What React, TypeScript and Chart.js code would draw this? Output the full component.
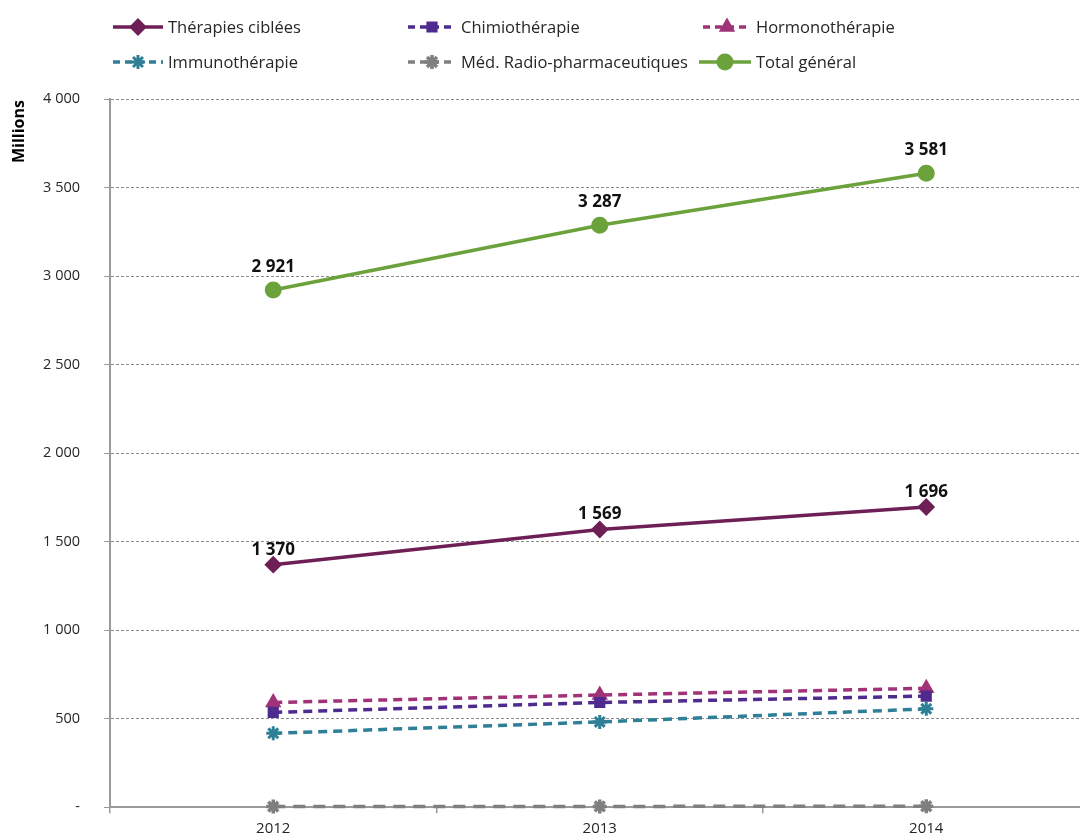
import React, { useEffect, useRef } from "react";
import { Chart, registerables } from "chart.js";
import { drawPoint } from "chart.js/helpers";

Chart.register(...registerables);

const years = ["2012", "2013", "2014"];
const therapiesCiblees = [1370, 1569, 1696];
const chimiotherapie = [536, 592, 628];
const hormonotherapie = [592, 634, 672];
const immunotherapie = [418, 482, 556];
const radioPharma = [4, 5, 6];
const totalGeneral = [2921, 3287, 3581];
const yTicks = [0, 500, 1000, 1500, 2000, 2500, 3000, 3500, 4000];

const FONT = "'Open Sans', 'DejaVu Sans', sans-serif";
const TEXT = "#262626";

const fmt = (v: number) =>
  v === 0 ? "-" : String(Math.round(v)).replace(/\B(?=(\d{3})+(?!\d))/g, " ");

export default function App() {
  const ref = useRef<HTMLCanvasElement | null>(null);
  useEffect(() => {
    if (!ref.current) return;

    const labelsPlugin = {
      id: "valueLabels",
      afterDatasetsDraw(chart: any) {
        const ctx = chart.ctx;
        ctx.save();
        ctx.font = `bold 17px ${FONT}`;
        ctx.fillStyle = "#111";
        ctx.textAlign = "center";
        ctx.textBaseline = "middle";
        chart.data.datasets.forEach((ds: any, i: number) => {
          if (!ds.showValues) return;
          const meta = chart.getDatasetMeta(i);
          meta.data.forEach((pt: any, j: number) => {
            ctx.fillText(fmt(ds.data[j]), pt.x, pt.y - ds.labelOffset);
          });
        });
        ctx.restore();
      },
    };

    const titlePlugin = {
      id: "yTitle",
      afterDraw(chart: any) {
        const ctx = chart.ctx;
        ctx.save();
        ctx.translate(19, chart.chartArea.top + 1);
        ctx.rotate(-Math.PI / 2);
        ctx.font = `bold 16px ${FONT}`;
        ctx.fillStyle = "#000";
        ctx.textAlign = "right";
        ctx.textBaseline = "middle";
        ctx.fillText("Millions", 0, 0);
        ctx.restore();
      },
    };

    const legendPos = [
      { lx: 113, tx: 168, y: 27 },
      { lx: 408, tx: 461, y: 27 },
      { lx: 703, tx: 756, y: 27 },
      { lx: 113, tx: 168, y: 62 },
      { lx: 408, tx: 461, y: 62 },
      { lx: 699, tx: 756, y: 62 },
    ];

    const legendPlugin = {
      id: "customLegend",
      afterDraw(chart: any) {
        const ctx = chart.ctx;
        chart.data.datasets.forEach((ds: any, i: number) => {
          const p = legendPos[i];
          const x2 = p.tx - 5;
          ctx.save();
          ctx.strokeStyle = ds.borderColor;
          ctx.lineWidth = ds.borderWidth;
          ctx.setLineDash(ds.legendDash || []);
          ctx.beginPath();
          ctx.moveTo(p.lx, p.y);
          ctx.lineTo(x2, p.y);
          ctx.stroke();
          ctx.setLineDash([]);
          ctx.fillStyle = ds.pointBackgroundColor;
          ctx.strokeStyle = ds.pointBorderColor;
          ctx.lineWidth = ds.pointBorderWidth;
          drawPoint(
            ctx,
            { pointStyle: ds.pointStyle, radius: ds.pointRadius, rotation: 0, borderWidth: ds.pointBorderWidth },
            (p.lx + x2) / 2,
            p.y
          );
          ctx.font = `16.5px ${FONT}`;
          ctx.fillStyle = TEXT;
          ctx.textAlign = "left";
          ctx.textBaseline = "middle";
          ctx.fillText(ds.label, p.tx, p.y + 1);
          ctx.restore();
        });
      },
    };

    const mk = (
      label: string,
      data: number[],
      color: string,
      style: string,
      radius: number,
      dash: number[] | undefined,
      extra: any = {}
    ) => ({
      label,
      data,
      borderColor: color,
      backgroundColor: color,
      pointBackgroundColor: color,
      pointBorderColor: color,
      pointBorderWidth: 2,
      borderWidth: 3.5,
      borderDash: dash || [],
      legendDash: dash ? [7, 5] : [],
      pointStyle: style,
      pointRadius: radius,
      pointHoverRadius: radius,
      tension: 0,
      clip: false,
      ...extra,
    });

    const chart = new Chart(ref.current, {
      type: "line",
      data: {
        labels: years,
        datasets: [
          mk("Thérapies ciblées", therapiesCiblees, "#6e1f56", "rectRot", 7.5, undefined, { showValues: true, labelOffset: 15 }),
          mk("Chimiothérapie", chimiotherapie, "#4e2b8f", "rect", 6.5, [9, 6]),
          mk("Hormonothérapie", hormonotherapie, "#a03378", "triangle", 7.5, [9, 6]),
          mk("Immunothérapie", immunotherapie, "#2f7f97", "star", 7, [9, 6], { pointBorderWidth: 3 }),
          mk("Méd. Radio-pharmaceutiques", radioPharma, "#7f7f7f", "star", 7, [12, 8], { pointBorderWidth: 3.5 }),
          mk("Total général", totalGeneral, "#6ba23b", "circle", 7.5, undefined, { showValues: true, labelOffset: 23 }),
        ] as any,
      },
      options: {
        responsive: false,
        animation: false,
        layout: { padding: { top: 99, right: 8, left: 0, bottom: 0 } },
        plugins: { legend: { display: false }, tooltip: { enabled: false } },
        scales: {
          x: {
            type: "category",
            offset: true,
            grid: {
              display: true,
              offset: true,
              drawOnChartArea: false,
              drawTicks: true,
              tickLength: 6,
              color: "#9a9a9a",
              lineWidth: 1.5,
            },
            border: { display: true, color: "#9a9a9a", width: 2 },
            ticks: { color: TEXT, font: { family: FONT, size: 15 }, padding: 6 },
            afterFit: (s: any) => {
              s.height = 32;
            },
          },
          y: {
            min: 0,
            max: 4000,
            afterBuildTicks: (s: any) => {
              s.ticks = yTicks.map((v) => ({ value: v }));
            },
            grid: {
              color: "#8c8c8c",
              lineWidth: 1,
              tickLength: 6,
              tickColor: "#9a9a9a",
              tickBorderDash: [],
            },
            border: { display: true, color: "#9a9a9a", width: 2, dash: [3, 2] },
            ticks: {
              color: TEXT,
              font: { family: FONT, size: 14.5 },
              padding: 24,
              callback: (v: any) => fmt(Number(v)),
            },
            afterFit: (s: any) => {
              s.width = 110;
            },
          },
        },
      } as any,
      plugins: [labelsPlugin, titlePlugin, legendPlugin],
    });
    return () => chart.destroy();
  }, []);

  return (
    <div style={{ position: "fixed", left: 0, top: 0, width: 1080, height: 840, overflow: "hidden", background: "#fff" }}>
      <canvas ref={ref} width={1100} height={840} style={{ width: 1100, height: 840, display: "block" }} />
    </div>
  );
}
